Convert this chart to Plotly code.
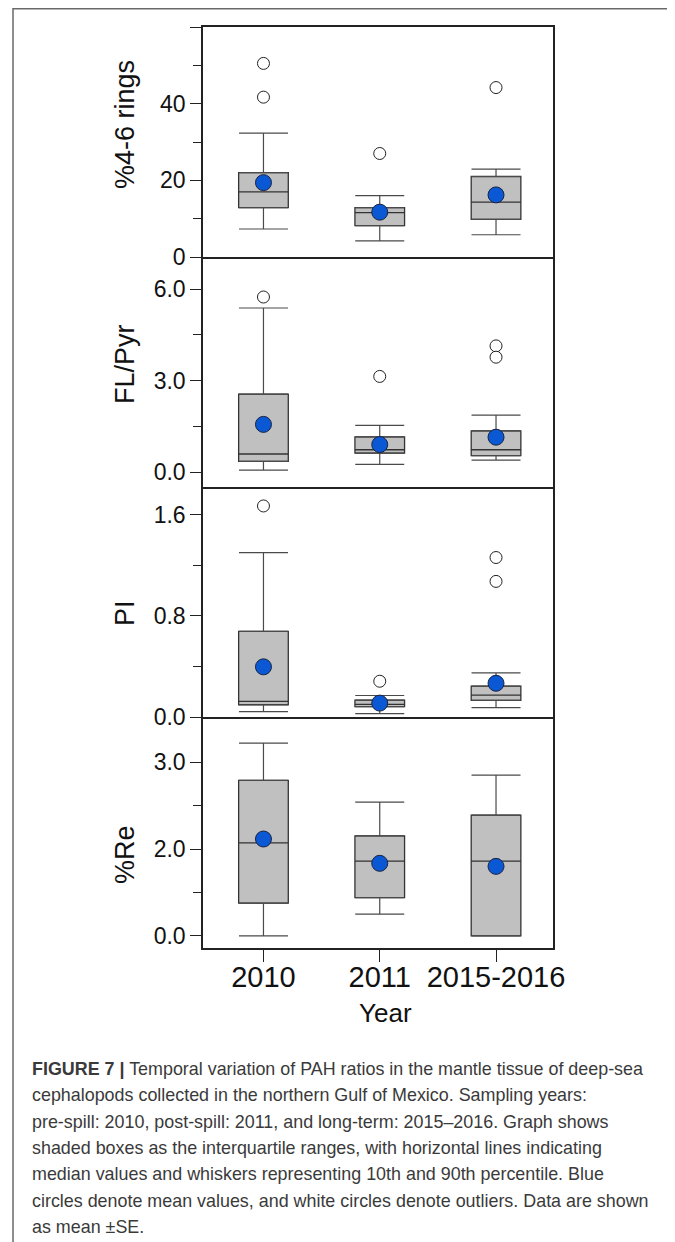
import plotly.graph_objects as go
from plotly.subplots import make_subplots

# ---------------- data ----------------
categories = ["2010", "2011", "2015-2016"]

# %4-6 rings
ring_q1 = [12.9, 8.2, 9.8]
ring_med = [17.0, 11.6, 14.3]
ring_q3 = [22.0, 12.9, 21.0]
ring_lo = [7.3, 4.2, 5.8]
ring_hi = [32.3, 16.0, 22.9]
ring_mean = [19.4, 11.7, 16.2]
ring_out_x = ["2010", "2010", "2011", "2015-2016"]
ring_out_y = [50.5, 41.7, 27.0, 44.2]

# FL/Pyr
fl_q1 = [0.36, 0.63, 0.55]
fl_med = [0.60, 0.74, 0.74]
fl_q3 = [2.56, 1.16, 1.36]
fl_lo = [0.07, 0.26, 0.40]
fl_hi = [5.38, 1.54, 1.87]
fl_mean = [1.57, 0.91, 1.15]
fl_out_x = ["2010", "2011", "2015-2016", "2015-2016"]
fl_out_y = [5.74, 3.14, 4.14, 3.77]

# PI
pi_q1 = [0.097, 0.082, 0.131]
pi_med = [0.124, 0.100, 0.173]
pi_q3 = [0.677, 0.134, 0.244]
pi_lo = [0.042, 0.027, 0.074]
pi_hi = [1.30, 0.17, 0.349]
pi_mean = [0.397, 0.11, 0.267]
pi_out_x = ["2010", "2011", "2015-2016", "2015-2016"]
pi_out_y = [1.67, 0.283, 1.262, 1.073]

# %Re (values in the drawn axis units; the original axis labels are 0.0 / 2.0 / 3.0)
re_q1 = [1.377, 1.44, 1.0]
re_med = [2.07, 1.86, 1.86]
re_q3 = [2.79, 2.15, 2.39]
re_lo = [1.0, 1.25, 1.0]
re_hi = [3.22, 2.54, 2.85]
re_mean = [2.115, 1.835, 1.80]
re_out_x = []
re_out_y = []

re_tickvals = [1, 2, 3]
re_ticktext = ["0.0", "2.0", "3.0"]

panel_titles = ["%4-6 rings", "FL/Pyr", "PI", "%Re"]

caption_lines = [
    "<b>FIGURE 7 |</b> Temporal variation of PAH ratios in the mantle tissue of deep-sea",
    "cephalopods collected in the northern Gulf of Mexico. Sampling years:",
    "pre-spill: 2010, post-spill: 2011, and long-term: 2015\u20132016. Graph shows",
    "shaded boxes as the interquartile ranges, with horizontal lines indicating",
    "median values and whiskers representing 10th and 90th percentile. Blue",
    "circles denote mean values, and white circles denote outliers. Data are shown",
    "as mean \u00b1SE.",
]

# ---------------- geometry ----------------
# The page body has an 8 px margin, so the figure is shifted by OFF;
# all target positions below are given in window pixels.
OFF = 8
W, H = 675 - OFF, 1242 - OFF
L, R, T, B = 203 - OFF, 553 - OFF, 27 - OFF, 948 - OFF
FONT = "Liberation Sans, Arial, Helvetica, sans-serif"


def px_x(px):
    return (px - OFF - L) / (R - L)


def px_y(py):
    return (B - (py - OFF)) / (B - T)


fig = make_subplots(rows=4, cols=1, shared_xaxes=True, vertical_spacing=0)

panels = [
    (ring_q1, ring_med, ring_q3, ring_lo, ring_hi, ring_mean, ring_out_x, ring_out_y),
    (fl_q1, fl_med, fl_q3, fl_lo, fl_hi, fl_mean, fl_out_x, fl_out_y),
    (pi_q1, pi_med, pi_q3, pi_lo, pi_hi, pi_mean, pi_out_x, pi_out_y),
    (re_q1, re_med, re_q3, re_lo, re_hi, re_mean, re_out_x, re_out_y),
]

box_fill = "#c0c0c0"
edge = "#333333"
whisk = "#4a4a4a"
mean_col = "#0a58d4"

for i, (q1, med, q3, lo, hi, mean, ox, oy) in enumerate(panels, start=1):
    fig.add_trace(go.Box(
        x=categories, q1=q1, median=med, q3=q3, lowerfence=q1, upperfence=q3,
        fillcolor=box_fill, line=dict(color=edge, width=1.3), width=0.427,
        boxpoints=False, showlegend=False, hoverinfo="skip"), row=i, col=1)
    # upper whiskers with caps
    fig.add_trace(go.Scatter(
        x=categories, y=q3, mode="markers",
        marker=dict(size=1, color="rgba(0,0,0,0)"),
        error_y=dict(type="data", symmetric=False,
                     array=[h - q for h, q in zip(hi, q3)],
                     arrayminus=[0, 0, 0], color=whisk, thickness=1.2, width=24.5),
        showlegend=False, hoverinfo="skip"), row=i, col=1)
    # lower whiskers with caps
    fig.add_trace(go.Scatter(
        x=categories, y=q1, mode="markers",
        marker=dict(size=1, color="rgba(0,0,0,0)"),
        error_y=dict(type="data", symmetric=False,
                     array=[0, 0, 0],
                     arrayminus=[q - l for q, l in zip(q1, lo)],
                     color=whisk, thickness=1.2, width=24.5),
        showlegend=False, hoverinfo="skip"), row=i, col=1)
    # outliers
    if ox:
        fig.add_trace(go.Scatter(
            x=ox, y=oy, mode="markers",
            marker=dict(size=12, color="white", line=dict(color="#222", width=1)),
            showlegend=False, hoverinfo="skip"), row=i, col=1)
    # means
    fig.add_trace(go.Scatter(
        x=categories, y=mean, mode="markers",
        marker=dict(size=16, color=mean_col, line=dict(color="#1a2340", width=1)),
        showlegend=False, hoverinfo="skip"), row=i, col=1)

# panel bounds in window pixels
bounds = [(27, 257), (257, 487), (487, 717), (717, 948)]
title_y = [125, 364, 613, 855]
yranges = [[0, 60], [-0.48, 7.05], [0, 1.82], [0.86, 3.52]]
ytickv = [[0, 20, 40, 60], [0, 3, 6], [0, 0.8, 1.6], re_tickvals]
ytickt = [["0", "20", "40", ""], ["0.0", "3.0", "6.0"], ["0.0", "0.8", "1.6"], re_ticktext]
yminor = [[10, 30, 50], [1.5, 4.5], [0.4, 1.2], [1.5, 2.5]]

for i in range(4):
    top, bot = bounds[i]
    ya = "yaxis" if i == 0 else f"yaxis{i+1}"
    xa = "xaxis" if i == 0 else f"xaxis{i+1}"
    fig.layout[ya].update(
        domain=[px_y(bot), px_y(top)], range=yranges[i],
        tickmode="array", tickvals=ytickv[i], ticktext=ytickt[i],
        ticks="outside", ticklen=11, tickwidth=1.2, tickcolor="#222",
        tickfont=dict(family=FONT, size=23, color="#111"),
        minor=dict(tickmode="array", tickvals=yminor[i], ticks="outside",
                   ticklen=8, tickwidth=1.2, tickcolor="#222", showgrid=False),
        showline=True, linecolor="#222", linewidth=1.5, mirror=True,
        showgrid=False, zeroline=False)
    last = (i == 3)
    fig.layout[xa].update(
        range=[-0.52, 2.49], type="category",
        categoryorder="array", categoryarray=categories,
        ticks="outside" if last else "", ticklen=12, tickwidth=1.2, tickcolor="#222",
        showticklabels=last, ticklabelstandoff=-10 if last else 0,
        tickfont=dict(family=FONT, size=29, color="#111"),
        showline=True, linecolor="#222", linewidth=1.5, mirror=(i == 0),
        showgrid=False, zeroline=False)
    # y-axis title
    fig.add_annotation(
        text=panel_titles[i], textangle=-90, xref="paper", yref="paper",
        x=px_x(125), y=px_y(title_y[i]), xanchor="center", yanchor="middle",
        showarrow=False, font=dict(family=FONT, size=27, color="#111"))

# x title
fig.add_annotation(text="Year", xref="paper", yref="paper", x=px_x(385), y=px_y(1013),
                   xanchor="center", yanchor="middle", showarrow=False,
                   font=dict(family=FONT, size=26, color="#111"))

# caption
for k, line in enumerate(caption_lines):
    fig.add_annotation(text=line, xref="paper", yref="paper",
                       x=px_x(30), y=px_y(1069 + k * 26.3),
                       xanchor="left", yanchor="middle", showarrow=False,
                       font=dict(family=FONT, size=17.9, color="#3a3a3a"))

# outer frame
fig.add_shape(type="path", xref="paper", yref="paper",
              path=f"M {px_x(13)},{px_y(1260)} L {px_x(13)},{px_y(8.75)} "
                   f"L {px_x(670)},{px_y(8.75)} L {px_x(670)},{px_y(1260)}",
              line=dict(color="#6a6a6a", width=1.5))

fig.update_layout(
    width=W, height=H,
    margin=dict(l=L, r=W - R, t=T, b=H - B, pad=0),
    paper_bgcolor="white", plot_bgcolor="white",
    showlegend=False,
    font=dict(family=FONT),
)

fig.write_html("out.html")
